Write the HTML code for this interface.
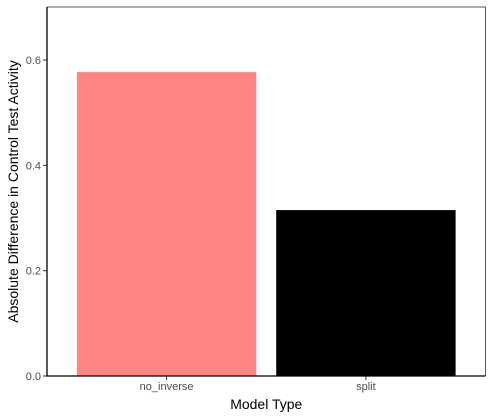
<!DOCTYPE html>
<html><head><meta charset="utf-8"><style>
body{margin:0;background:#fff}
svg{display:block;font-family:"Liberation Sans",Arial,sans-serif}
</style></head><body>
<svg width="493" height="418">
<g id="plot"></g>
</svg>
<script>
const categories=["no_inverse","split"];
const values=[0.577,0.315];
const colors=["#FF8585","#000000"];
const yTicks=[0.0,0.2,0.4,0.6];
const yTickLabels=["0.0","0.2","0.4","0.6"];
const L=47,R=485.5,T=7,B=376,yMax=0.7006;
const y=v=>B-(v/yMax)*(B-T);
const unit=(R-L)/(categories.length+0.2);
const xc=i=>L+unit*(0.6+i);
const NS="http://www.w3.org/2000/svg";
const g=document.getElementById('plot');
function mk(t,a,txt){const e=document.createElementNS(NS,t);for(const k in a)e.setAttribute(k,a[k]);if(txt!==undefined)e.textContent=txt;g.appendChild(e);return e;}
categories.forEach((c,i)=>{
 const r=mk('rect',{x:xc(i)-unit*0.45,y:y(values[i]),width:unit*0.9,height:B-y(values[i]),fill:colors[i]});
 
 
 const tk=mk('line',{x1:xc(i),x2:xc(i),y1:B,y2:B+4,stroke:'#333','stroke-width':1});
 
 
 const t=mk('text',{x:xc(i),y:B+14,'text-anchor':'middle','font-size':11,fill:'#4d4d4d'},c);
 
 
});
yTicks.forEach((v,i)=>{
 const tk=mk('line',{x1:L-4,x2:L,y1:y(v),y2:y(v),stroke:'#333','stroke-width':1});
 
 
 const t=mk('text',{x:L-6,y:y(v)+4,'text-anchor':'end','font-size':11,fill:'#4d4d4d'},yTickLabels[i]);
 
 
});
const b1=mk('path',{d:`M${L},${T}H${R}V${B}`,fill:'none',stroke:'#555','stroke-width':1});


const ax=mk('path',{d:`M${L},${T}V${B}H${R}`,fill:'none',stroke:'#000','stroke-width':1.3});


const xt=mk('text',{x:(L+R)/2,y:409,'text-anchor':'middle','font-size':14,fill:'#000'},'Model Type');


const yt=mk('text',{x:0,y:0,transform:`translate(18,${(T+B)/2}) rotate(-90)`,'text-anchor':'middle','font-size':14,fill:'#000'},'Absolute Difference in Control Test Activity');


</script>
</body></html>
